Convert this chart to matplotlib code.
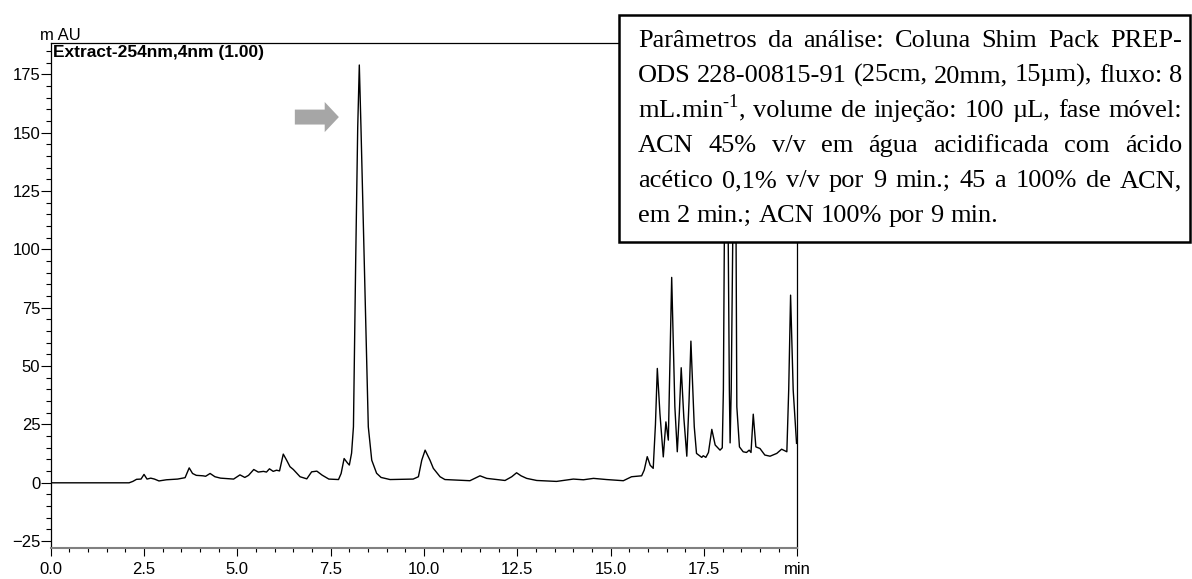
import matplotlib
matplotlib.use('Agg')
import matplotlib.pyplot as plt
from matplotlib.patches import FancyArrow, Rectangle
from matplotlib.ticker import MultipleLocator

# chromatogram trace (retention time in min, signal in mAU)
rt_min = [0.0, 2.1, 2.2, 2.3, 2.42, 2.5, 2.58, 2.68, 2.78, 2.9, 3.1, 3.4, 3.6,
          3.71, 3.8, 3.9, 4.08, 4.15, 4.27, 4.4, 4.55, 4.9, 5.07, 5.2, 5.3,
          5.44, 5.56, 5.7, 5.78, 5.86, 5.96, 6.05, 6.13, 6.23, 6.32, 6.41,
          6.5, 6.68, 6.86, 6.99, 7.13, 7.27, 7.45, 7.71, 7.78, 7.86, 7.95,
          8.0, 8.06, 8.11, 8.17, 8.224, 8.267, 8.312, 8.4, 8.508, 8.6, 8.73,
          8.85, 9.09, 9.71, 9.85, 9.94, 10.03, 10.16, 10.25, 10.43, 10.56,
          11.23, 11.4, 11.5, 11.68, 12.17, 12.35, 12.48, 12.6, 12.75, 13.02,
          13.55, 14.0, 14.27, 14.54, 14.89, 15.34, 15.56, 15.83, 15.9, 15.98,
          16.06, 16.14, 16.2, 16.25, 16.32, 16.41, 16.48, 16.545, 16.58,
          16.635, 16.72, 16.785, 16.84, 16.89, 16.96, 17.04, 17.1, 17.15,
          17.24, 17.3, 17.44, 17.48, 17.55, 17.62, 17.71, 17.8, 17.93, 17.99,
          18.02, 18.045, 18.09, 18.15, 18.18, 18.2, 18.23, 18.27, 18.31,
          18.36, 18.38, 18.45, 18.55, 18.64, 18.71, 18.76, 18.82, 18.89, 19.0,
          19.13, 19.27, 19.45, 19.58, 19.72, 19.77, 19.82, 19.89, 19.98]
signal_mau = [0.0, 0.0, 0.6, 1.5, 1.6, 3.6, 1.6, 2.0, 1.6, 0.8, 1.3, 1.6, 2.2,
              6.4, 4.0, 3.2, 3.0, 2.8, 4.0, 2.6, 2.0, 1.6, 3.4, 2.3, 3.2,
              5.7, 4.6, 4.9, 4.6, 6.0, 4.9, 5.4, 5.1, 12.3, 9.7, 6.9,
              5.7, 2.6, 1.7, 4.7, 5.0, 3.3, 1.6, 1.4, 4.0, 10.4, 8.5,
              7.6, 12.7, 24.0, 95.0, 152.0, 179.0, 152.0, 95.0, 24.0, 9.7, 4.1,
              2.3, 1.4, 1.6, 2.6, 9.7, 14.0, 9.7, 6.2, 2.6, 1.4,
              0.9, 2.2, 3.0, 1.9, 1.0, 2.6, 4.3, 3.0, 1.9, 1.0,
              0.6, 1.6, 1.3, 1.9, 1.4, 0.9, 2.6, 3.0, 5.5, 11.2,
              7.5, 6.2, 25.0, 49.0, 29.7, 11.1, 26.1, 18.3, 45.0,
              88.0, 32.6, 13.3, 30.0, 49.3, 28.0, 11.4, 35.0, 60.7,
              24.0, 12.6, 10.9, 11.6, 10.9, 13.0, 22.9, 16.2, 14.0, 15.0,
              40.0, 103.0, 170.0, 103.0, 40.0, 17.1, 40.0, 103.0, 150.0,
              103.0, 32.6, 15.4, 13.3, 13.0, 14.0, 13.0, 29.4, 15.4, 14.7,
              11.9, 11.4, 12.6, 14.4, 13.3, 40.0, 80.4, 39.7, 16.9]

x_ticks = [0.0, 2.5, 5.0, 7.5, 10.0, 12.5, 15.0, 17.5, 20.0]
x_labels = ['0.0', '2.5', '5.0', '7.5', '10.0', '12.5', '15.0', '17.5', 'min']
y_ticks = [-25, 0, 25, 50, 75, 100, 125, 150, 175]

box_lines = [
    'Parâmetros da análise: Coluna Shim Pack PREP-',
    'ODS 228-00815-91 (25cm, 20mm, 15\u00b5m), fluxo: 8',
    'mL.min$^{\\text{-1}}$, volume de injeção: 100 \u00b5L, fase móvel:',
    'ACN 45% v/v em água acidificada com ácido',
    'acético 0,1% v/v por 9 min.; 45 a 100% de ACN,',
    'em 2 min.; ACN 100% por 9 min.',
]

plt.rcParams['font.family'] = ['Liberation Sans', 'DejaVu Sans']
plt.rcParams['mathtext.fontset'] = 'custom'
plt.rcParams['mathtext.rm'] = 'Liberation Serif'

W, H = 1192, 579
fig = plt.figure(figsize=(W / 100, H / 100), dpi=100)
ax = fig.add_axes([50.7 / W, 1 - 547.7 / H, 746.6 / W, (547.7 - 43.3) / H])

ax.plot(rt_min, signal_mau, color='black', lw=1.0)
ax.set_xlim(0, 20)
ax.set_ylim(-27.8, 188.3)

ax.set_xticks(x_ticks)
ax.set_xticklabels(x_labels)
ax.set_yticks(y_ticks)
ax.xaxis.set_minor_locator(MultipleLocator(0.5))
ax.yaxis.set_minor_locator(MultipleLocator(5))
ax.tick_params(axis='y', which='major', length=7.5, width=0.8, pad=0, labelsize=12)
ax.tick_params(axis='y', which='minor', length=3.8, width=0.8)
ax.tick_params(axis='x', which='major', length=6, width=0.8, pad=4, labelsize=12)
ax.tick_params(axis='x', which='minor', length=3, width=0.8)
for s in ['left', 'top', 'right']:
    ax.spines[s].set_linewidth(0.9)
    ax.spines[s].set_color('black')
ax.spines['bottom'].set_color('#808080')
ax.spines['bottom'].set_linewidth(1.5)

# grey arrow pointing to the main peak
ax.add_patch(FancyArrow(6.54, 156.7, 1.18, 0, width=6.4, head_width=12.9,
                        head_length=0.38, length_includes_head=True,
                        color='#a6a6a6', lw=0))

fig.text(40 / W, 1 - 40 / H, 'm AU', fontsize=12, ha='left', va='baseline')
ax.text(0.003, 0.997, 'Extract-254nm,4nm (1.00)', transform=ax.transAxes,
        fontsize=12.5, fontweight='bold', ha='left', va='top')

# text box with the analysis parameters (justified like the original)
box = Rectangle((619 / W, 1 - 242 / H), (1190 - 619) / W, (242 - 15) / H,
                transform=fig.transFigure, facecolor='white', edgecolor='black',
                lw=1.8, zorder=10)
fig.add_artist(box)

renderer = fig.canvas.get_renderer()
x_left, x_right = 638, 1182
base0, step = 47, 35
fs = 19
for i, line in enumerate(box_lines):
    yb = 1 - (base0 + i * step) / H
    words = line.split(' ')
    objs = [fig.text(0, yb, w, fontsize=fs, family='Liberation Serif',
                     ha='left', va='baseline', zorder=11) for w in words]
    widths = [o.get_window_extent(renderer).width for o in objs]
    if i < len(box_lines) - 1:
        gap = (x_right - x_left - sum(widths)) / (len(words) - 1)
    else:
        gap = fs * 100 / 72 * 0.25
    x = x_left
    for o, w in zip(objs, widths):
        o.set_x(x / W)
        x += w + gap

fig.savefig('out.png', dpi=100)
